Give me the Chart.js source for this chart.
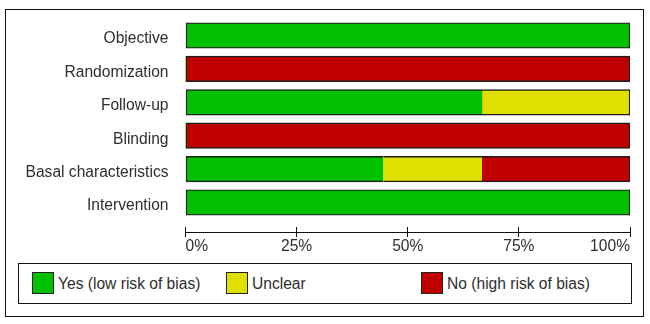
<!DOCTYPE html>
<html><head><meta charset="utf-8">
<script src="https://cdn.jsdelivr.net/npm/chart.js@4/dist/chart.umd.min.js"></script>
<style>
html,body{margin:0;padding:0;background:#fff;}
body{width:650px;height:324px;position:relative;overflow:hidden;font-family:"Liberation Sans",Arial,sans-serif;}
#frame{position:absolute;left:5px;top:9px;width:637px;height:306px;border:1px solid #111;}
#legend{position:absolute;left:18px;top:263px;width:612px;height:39px;border:1px solid #111;}
.item{position:absolute;top:8px;height:22px;display:flex;align-items:center;white-space:nowrap;}
.sw{width:20px;height:20px;border:1px solid #222;margin-right:4px;}
.lbl{font-size:15.6px;color:#2e2e2e;position:relative;top:1px;}
#c{position:absolute;left:0;top:0;z-index:2;}
</style>
</head><body>
<div id="frame"></div>
<div id="legend"></div>
<canvas id="c" width="650" height="324"></canvas>
<script>
const categories = ["Objective", "Randomization", "Follow-up", "Blinding", "Basal characteristics", "Intervention"];
const seriesNames = ["Yes (low risk of bias)", "Unclear", "No (high risk of bias)"];
const yesValues = [100, 0, 66.7, 0, 44.5, 100];
const unclearValues = [0, 0, 33.3, 0, 22.2, 0];
const noValues = [0, 100, 0, 100, 33.3, 0];
const xTickValues = [0, 25, 50, 75, 100];

const seriesColors = ["#00c000", "#e0e000", "#c00000"];
const seriesValues = [yesValues, unclearValues, noValues];

// HTML legend built from the series names / colours
const legendLeft = [13, 207, 402];
const legend = document.getElementById('legend');
seriesNames.forEach((n, k) => {
  const it = document.createElement('div');
  it.className = 'item';
  it.style.left = legendLeft[k] + 'px';
  it.innerHTML = '<div class="sw" style="background:' + seriesColors[k] + '"></div><span class="lbl"></span>';
  it.querySelector('.lbl').textContent = n;
  legend.appendChild(it);
});

const BW = 1.4;
function borderFor(ctx) {
  const i = ctx.dataIndex, d = ctx.datasetIndex;
  const v = seriesValues[d][i];
  if (!v) return 0;
  let start = 0;
  for (let k = 0; k < d; k++) start += seriesValues[k][i];
  const end = start + v;
  return { top: BW, bottom: BW, left: start === 0 ? BW : 0, right: end >= 99.9 ? BW : 0 };
}

const datasets = seriesNames.map((n, k) => ({
  label: n,
  data: categories.map((c, i) => ({ x: seriesValues[k][i], y: i })),
  backgroundColor: seriesColors[k],
  borderColor: '#1e1e1e',
  borderWidth: borderFor,
  borderSkipped: false,
  barThickness: 25.5
}));

// extend x-axis tick marks slightly above the axis line (as in the reference)
const tickUp = {
  id: 'tickUp',
  afterDraw(chart) {
    const s = chart.scales.x, ctx = chart.ctx;
    ctx.save();
    ctx.strokeStyle = '#111';
    ctx.lineWidth = 1;
    ctx.beginPath();
    s.ticks.forEach(t => {
      const px = Math.round(s.getPixelForValue(t.value) - 0.5) + 0.5;
      ctx.moveTo(px, s.top - 5.5);
      ctx.lineTo(px, s.top);
    });
    ctx.stroke();
    ctx.restore();
  }
};

const font = { family: '"Liberation Sans", Arial, sans-serif', size: 15.6 };

new Chart(document.getElementById('c'), {
  type: 'bar',
  data: { datasets },
  plugins: [tickUp],
  options: {
    responsive: false,
    animation: false,
    indexAxis: 'y',
    layout: { padding: { left: 0, right: 20, top: 18.85, bottom: 0 } },
    plugins: { legend: { display: false }, tooltip: { enabled: false } },
    scales: {
      y: {
        type: 'linear',
        reverse: true,
        stacked: true,
        offset: false,
        bounds: 'data',
        min: -0.5,
        max: 5.9,
        afterBuildTicks: s => { s.ticks = categories.map((c, i) => ({ value: i })); },
        afterFit: s => { s.width = 185.5; s.paddingTop = 0; s.paddingBottom = 0; },
        grid: { display: false, drawTicks: false, offset: false },
        border: { display: false },
        ticks: {
          callback: v => categories[v],
          color: '#2e2e2e',
          font,
          padding: 17,
          labelOffset: 3.5,
          autoSkip: false
        }
      },
      x: {
        type: 'linear',
        stacked: true,
        min: 0,
        max: 100,
        afterBuildTicks: s => { s.ticks = xTickValues.map(v => ({ value: v })); },
        afterFit: s => { s.height = 324 - 232.5; },
        grid: { drawOnChartArea: false, tickLength: 4.5, color: '#111', lineWidth: 1 },
        border: { color: '#111', width: 1 },
        ticks: {
          callback: v => v + '%',
          align: 'inner',
          color: '#2e2e2e',
          font,
          padding: 0,
          maxRotation: 0,
          autoSkip: false
        }
      }
    }
  }
});
</script>
</body></html>
